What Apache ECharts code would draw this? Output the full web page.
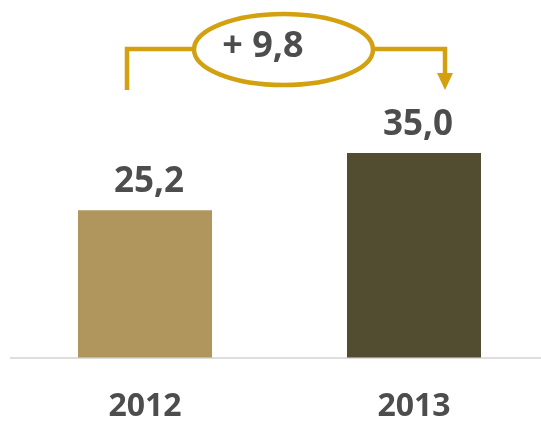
<!DOCTYPE html>
<html>
<head>
<meta charset="utf-8">
<script src="https://cdn.jsdelivr.net/npm/echarts@6/dist/echarts.min.js"></script>
<style>
  html, body { margin: 0; padding: 0; background: #fff; }
  #chart { width: 541px; height: 425px; }
</style>
</head>
<body>
<div id="chart"></div>
<script>
// data
var categories = ["2012", "2013"];
var values = [25.2, 35.0];
var barColors = ["#B0965C", "#524C30"];
var deltaLabel = "+ 9,8";

var textColor = "#4D4D4D";
var gold = "#D3A10F";
var font = "Open Sans";

var myChart = echarts.init(document.getElementById("chart"));

var option = {
  animation: false,
  grid: {
    left: 10.5, right: -7.5, top: 7, bottom: 67.5,
    containLabel: false,
    outerBoundsMode: "none"
  },
  xAxis: {
    type: "category",
    data: categories,
    axisLine: { lineStyle: { color: "#D4D4D4", width: 1.5 } },
    axisTick: { show: false },
    axisLabel: {
      margin: 33,
      color: textColor,
      fontFamily: font,
      fontWeight: "bold",
      fontSize: 32
    }
  },
  yAxis: {
    type: "value",
    min: 0,
    max: 60,
    show: false,
    splitLine: { show: false }
  },
  series: [
    {
      type: "bar",
      barWidth: 134,
      data: values.map(function (v, i) {
        return { value: v, itemStyle: { color: barColors[i] } };
      }),
      label: {
        show: true,
        position: "top",
        distance: 11,
        offset: [4, 0],
        color: textColor,
        fontFamily: font,
        fontWeight: "bold",
        fontSize: 35,
        formatter: function (p) {
          return p.value.toFixed(1).replace(".", ",");
        }
      }
    }
  ]
};

myChart.setOption(option);

// annotation bracket, anchored on the bar centres
var c1 = myChart.convertToPixel({ xAxisIndex: 0 }, categories[0]);
var c2 = myChart.convertToPixel({ xAxisIndex: 0 }, categories[1]);
var xl = c1 - 18, xr = c2 + 31;
var yTop = 49, yBottom = 90;
var ecx = 283.5, erx = 89.5, ery = 35.5;
var lineStyle = { stroke: gold, lineWidth: 4.5, fill: null };

myChart.setOption({
  graphic: [
    { type: "polyline", shape: { points: [[xl, yBottom], [xl, yTop], [ecx - erx, yTop]] }, style: lineStyle },
    { type: "polyline", shape: { points: [[ecx + erx, yTop], [xr, yTop], [xr, 75]] }, style: lineStyle },
    { type: "polygon", shape: { points: [[xr - 8, 73], [xr + 8, 73], [xr, yBottom]] }, style: { fill: gold } },
    { type: "ellipse", shape: { cx: ecx, cy: yTop + 0.5, rx: erx, ry: ery }, style: { stroke: gold, lineWidth: 4.5, fill: "#fff" } },
    {
      type: "text",
      x: 263,
      y: 47,
      style: {
        text: deltaLabel,
        align: "center",
        verticalAlign: "middle",
        fill: textColor,
        fontFamily: font,
        fontWeight: "bold",
        fontSize: 36
      }
    }
  ]
});
</script>
</body>
</html>
